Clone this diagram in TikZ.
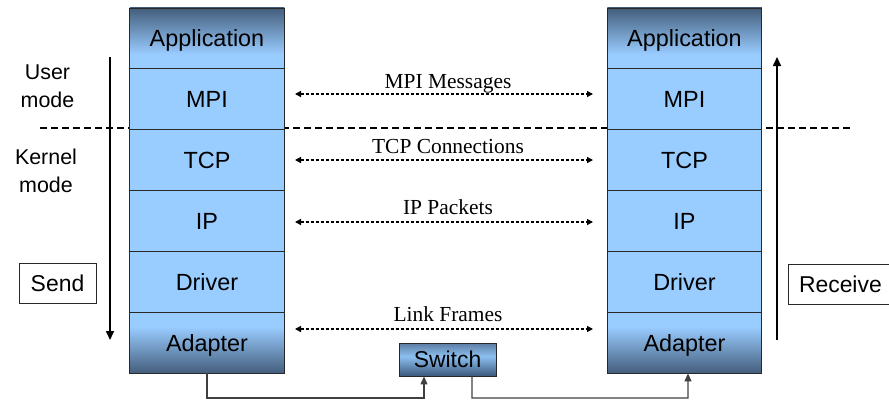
\documentclass[tikz,border=0pt]{standalone}
\usepackage{fontspec}
\setmainfont{Liberation Serif}
\newfontfamily\arialf{Liberation Sans}
\usetikzlibrary{arrows.meta,calc}
\definecolor{lblue}{RGB}{153,204,255}
\definecolor{dblue}{RGB}{68,94,124}
\definecolor{swtop}{RGB}{92,124,162}
\definecolor{swmid}{RGB}{140,192,240}
\definecolor{swbot}{RGB}{60,88,124}
\definecolor{edge}{RGB}{40,40,40}
\pgfdeclareverticalshading{appshade}{100bp}{color(0bp)=(lblue); color(25bp)=(lblue); color(37bp)=(lblue); color(75bp)=(dblue); color(100bp)=(dblue)}
\pgfdeclareverticalshading{adpshade}{100bp}{color(0bp)=(dblue); color(25bp)=(dblue); color(63bp)=(lblue); color(75bp)=(lblue); color(100bp)=(lblue)}
\pgfdeclareverticalshading{swshade}{100bp}{color(0bp)=(swbot); color(25bp)=(swbot); color(55bp)=(swmid); color(75bp)=(swtop); color(100bp)=(swtop)}
\tikzset{
  layer/.style={draw=edge, line width=0.8bp, fill=lblue, minimum width=154.5bp, minimum height=60.83bp, inner sep=0pt, text height=16.8bp, text depth=0pt, font=\arialf\fontsize{23.5}{26}\selectfont},
  applayer/.style={layer, shading=appshade},
  adplayer/.style={layer, shading=adpshade},
  switchbox/.style={draw=edge, line width=0.9bp, shading=swshade, minimum width=97bp, minimum height=33bp, inner sep=0pt, text height=16.5bp, text depth=0pt, font=\arialf\fontsize{23}{26}\selectfont},
  modetext/.style={align=center, font=\arialf\fontsize{21.5}{28}\selectfont},
  sidebox/.style={draw=edge, line width=0.8bp, fill=white, minimum height=40bp, inner sep=0pt, text height=16.5bp, text depth=0pt, font=\arialf\fontsize{23}{26}\selectfont},
  msglabel/.style={anchor=base, inner sep=0pt, font=\fontsize{21.5}{24}\selectfont},
  darrow/.style={line width=1.3bp, dash pattern=on 3bp off 2bp, {Triangle[width=6bp,length=6bp]}-{Triangle[width=6bp,length=6bp]}},
  flow/.style={line width=1.6bp, -{Triangle[width=8bp,length=9bp]}},
  modeline/.style={line width=2bp, dash pattern=on 7bp off 4bp},
  conn/.style={draw=black!75, line width=1.4bp},
}
\begin{document}
\begin{tikzpicture}[x=1bp,y=-1bp]
\useasboundingbox (0,0) rectangle (889,400);
% user/kernel boundary
\coordinate (ml) at (40,128);
\coordinate (mr) at (852,128);
\draw[modeline] (ml) -- (mr);
% left stack
\node[applayer] (appL) at (207,38.4) {Application};
\node[layer] (mpiL) at (207,99.25) {MPI};
\node[layer] (tcpL) at (207,160.1) {TCP};
\node[layer] (ipL) at (207,220.9) {IP};
\node[layer] (drvL) at (207,281.75) {Driver};
\node[adplayer] (adL) at (207,342.6) {Adapter};
% right stack
\node[applayer] (appR) at (684.5,38.4) {Application};
\node[layer] (mpiR) at (684.5,99.25) {MPI};
\node[layer] (tcpR) at (684.5,160.1) {TCP};
\node[layer] (ipR) at (684.5,220.9) {IP};
\node[layer] (drvR) at (684.5,281.75) {Driver};
\node[adplayer] (adR) at (684.5,342.6) {Adapter};
% mode labels
\node[modetext] (user) at (47.5,86) {User\\mode};
\node[modetext] (kern) at (46,171) {Kernel\\mode};
% send / receive
\node[sidebox, minimum width=77bp] (send) at (57.5,283) {Send};
\node[sidebox, minimum width=106bp, text width=100bp, align=left] (recv) at (841,284) {\hspace*{8bp}Receive};
% flow arrows
\coordinate (sendTop) at (110,57);
\coordinate (sendBot) at (110,340);
\draw[flow] (sendTop) -- (sendBot);
\coordinate (recvBot) at (777,340);
\coordinate (recvTop) at (777,57);
\draw[flow] (recvBot) -- (recvTop);
% peer messages
\coordinate (m1) at (295,94);  \coordinate (m2) at (593,94);
\coordinate (t1) at (295,160); \coordinate (t2) at (593,160);
\coordinate (i1) at (295,222); \coordinate (i2) at (593,222);
\coordinate (l1) at (295,329); \coordinate (l2) at (593,329);
\draw[darrow] (m1) -- (m2);
\draw[darrow] (t1) -- (t2);
\draw[darrow] (i1) -- (i2);
\draw[darrow] (l1) -- (l2);
\node[msglabel] (lm) at (448,88.3) {MPI Messages};
\node[msglabel] (lt) at (448,153.3) {TCP Connections};
\node[msglabel] (li) at (448,214.3) {IP Packets};
\node[msglabel] (ll) at (448,321) {Link Frames};
% switch
\node[switchbox] (sw) at (447.5,359.5) {Switch};
\coordinate (b1) at (207,398);
\coordinate (b2) at (472,398);
\draw[conn, -{Triangle[width=7bp,length=8bp]}] (adL.south) -- (b1) -| ([xshift=-23.5bp]sw.south);
\draw[conn, -{Triangle[width=7bp,length=8bp]}] ([xshift=24.5bp]sw.south) -- (b2) -| ([xshift=3.5bp]adR.south);
\end{tikzpicture}
\end{document}
